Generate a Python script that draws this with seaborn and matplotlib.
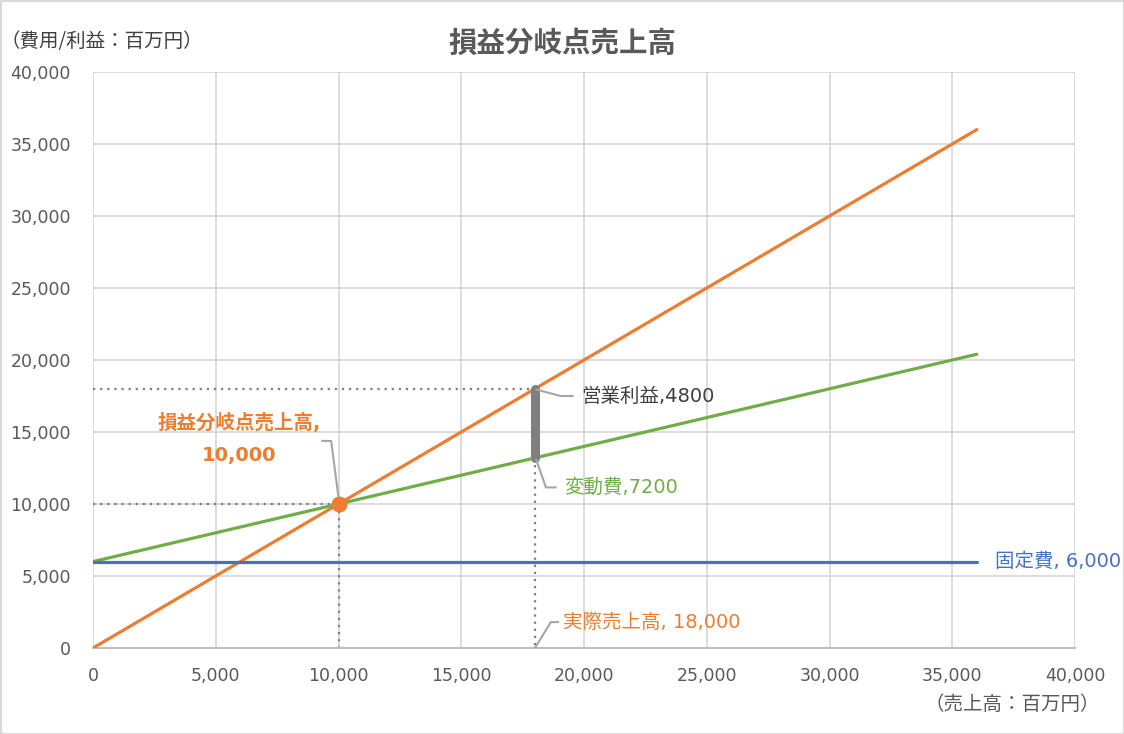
import matplotlib
matplotlib.use("Agg")
import matplotlib.pyplot as plt
import seaborn as sns
import pandas as pd
from matplotlib.patches import Rectangle

# ---- data ----
sales_x = [0, 36000]
sales_line = [0, 36000]          # 売上高
total_cost = [6000, 20400]       # 総費用 (固定費+変動費)
fixed_cost = [6000, 6000]        # 固定費
bep_x, bep_y = 10000, 10000      # 損益分岐点
actual_sales = 18000
actual_cost = 13200
profit = 4800
variable = 7200
ticks = [0, 5000, 10000, 15000, 20000, 25000, 30000, 35000, 40000]

sns.set_theme(style="white")
FAM = ['DejaVu Sans', 'Noto Sans CJK JP']
CJK = ['Noto Sans CJK JP', 'DejaVu Sans']
plt.rcParams['font.family'] = FAM

ORANGE = "#ED7D31"
GREEN = "#70AD47"
BLUE = "#4472C4"
GREY = "#595959"

fig = plt.figure(figsize=(11.24, 7.34), dpi=100)
ax = fig.add_axes([93/1124, 1-648/734, (1075-93)/1124, (648-72)/734])

df = pd.DataFrame({
    "x": sales_x * 3,
    "y": sales_line + total_cost + fixed_cost,
    "s": ["sales"] * 2 + ["total"] * 2 + ["fixed"] * 2,
})
sns.lineplot(data=df, x="x", y="y", hue="s",
             palette={"sales": ORANGE, "total": GREEN, "fixed": BLUE},
             linewidth=2.3, legend=False, ax=ax, zorder=3)

# dotted guides
dot = dict(color="#7f7f7f", linestyle=(0, (1, 2.2)), linewidth=1.6, zorder=2)
ax.plot([0, actual_sales], [actual_sales, actual_sales], **dot)
ax.plot([0, bep_x], [bep_y, bep_y], **dot)
ax.plot([bep_x, bep_x], [bep_y, 0], **dot)
ax.plot([actual_sales, actual_sales], [actual_cost, 0], **dot)

# profit bar
ax.plot([actual_sales, actual_sales], [actual_cost, actual_sales],
        color="#7f7f7f", linewidth=6.5, solid_capstyle="round", zorder=4)

# break-even marker
ax.scatter([bep_x], [bep_y], s=110, color=ORANGE, zorder=5, edgecolor=ORANGE)

ax.set_xlim(0, 40000)
ax.set_ylim(0, 40000)
ax.set_xticks(ticks)
ax.set_yticks(ticks)
ax.set_xticklabels([f"{t:,}" for t in ticks])
ax.set_yticklabels([f"{t:,}" for t in ticks])
ax.tick_params(axis="both", labelsize=12.5, colors=GREY, length=0)
ax.tick_params(axis="x", pad=14)
ax.tick_params(axis="y", pad=16)
ax.set_xlabel("")
ax.set_ylabel("")
ax.grid(True, color="#d9d9d9", linewidth=1.3)
ax.set_axisbelow(True)
for s in ["top", "right", "left"]:
    ax.spines[s].set_visible(False)
ax.spines["bottom"].set_color("#bfbfbf")
ax.spines["bottom"].set_linewidth(1.5)

def fx(px):
    return px / 1124
def fy(py):
    return 1 - py / 734

fig.text(fx(562), fy(44), "損益分岐点売上高", ha="center", va="center",
         fontsize=20.5, fontweight="bold", color=GREY, family=CJK)
fig.text(fx(0), fy(42), "（費用/利益：百万円）", ha="left", va="center",
         fontsize=14, color="#404040", family=CJK)
fig.text(fx(1100), fy(705), "（売上高：百万円）", ha="right", va="center",
         fontsize=14, color=GREY, family=CJK)

# annotations
lead = dict(color="#a6a6a6", linewidth=1.5, zorder=4)
ax.text(5950, 15650, "損益分岐点売上高,", ha="center", va="center",
        fontsize=14, fontweight="bold", color=ORANGE)
ax.text(5950, 13400, "10,000", ha="center", va="center",
        fontsize=14, fontweight="bold", color=ORANGE)
ax.plot([9330, 9700, bep_x], [14380, 14380, bep_y + 450], **lead)

ax.text(19900, 17500, "営業利益,4800", ha="left", va="center",
        fontsize=14, color="#404040")
ax.plot([actual_sales + 50, 19050, 19550], [17950, 17500, 17500], **lead)

ax.text(19200, 11150, "変動費,7200", ha="left", va="center",
        fontsize=14, color=GREEN)
ax.plot([actual_sales + 50, 18450, 18850], [13100, 11150, 11150], **lead)

ax.text(19150, 1800, "実際売上高, 18,000", ha="left", va="center",
        fontsize=14, color=ORANGE)
ax.plot([actual_sales, 18650, 18950], [0, 1800, 1800], **lead)

ax.text(36750, 6000, "固定費, 6,000", ha="left", va="center",
        fontsize=14, color=BLUE, clip_on=False)

# chart border
fig.patches.append(Rectangle((0.5/1124, 0.5/734), 1 - 1/1124, 1 - 1/734,
                             transform=fig.transFigure, fill=False,
                             edgecolor="#d9d9d9", linewidth=1.5))

fig.savefig("out.png", dpi=100)
